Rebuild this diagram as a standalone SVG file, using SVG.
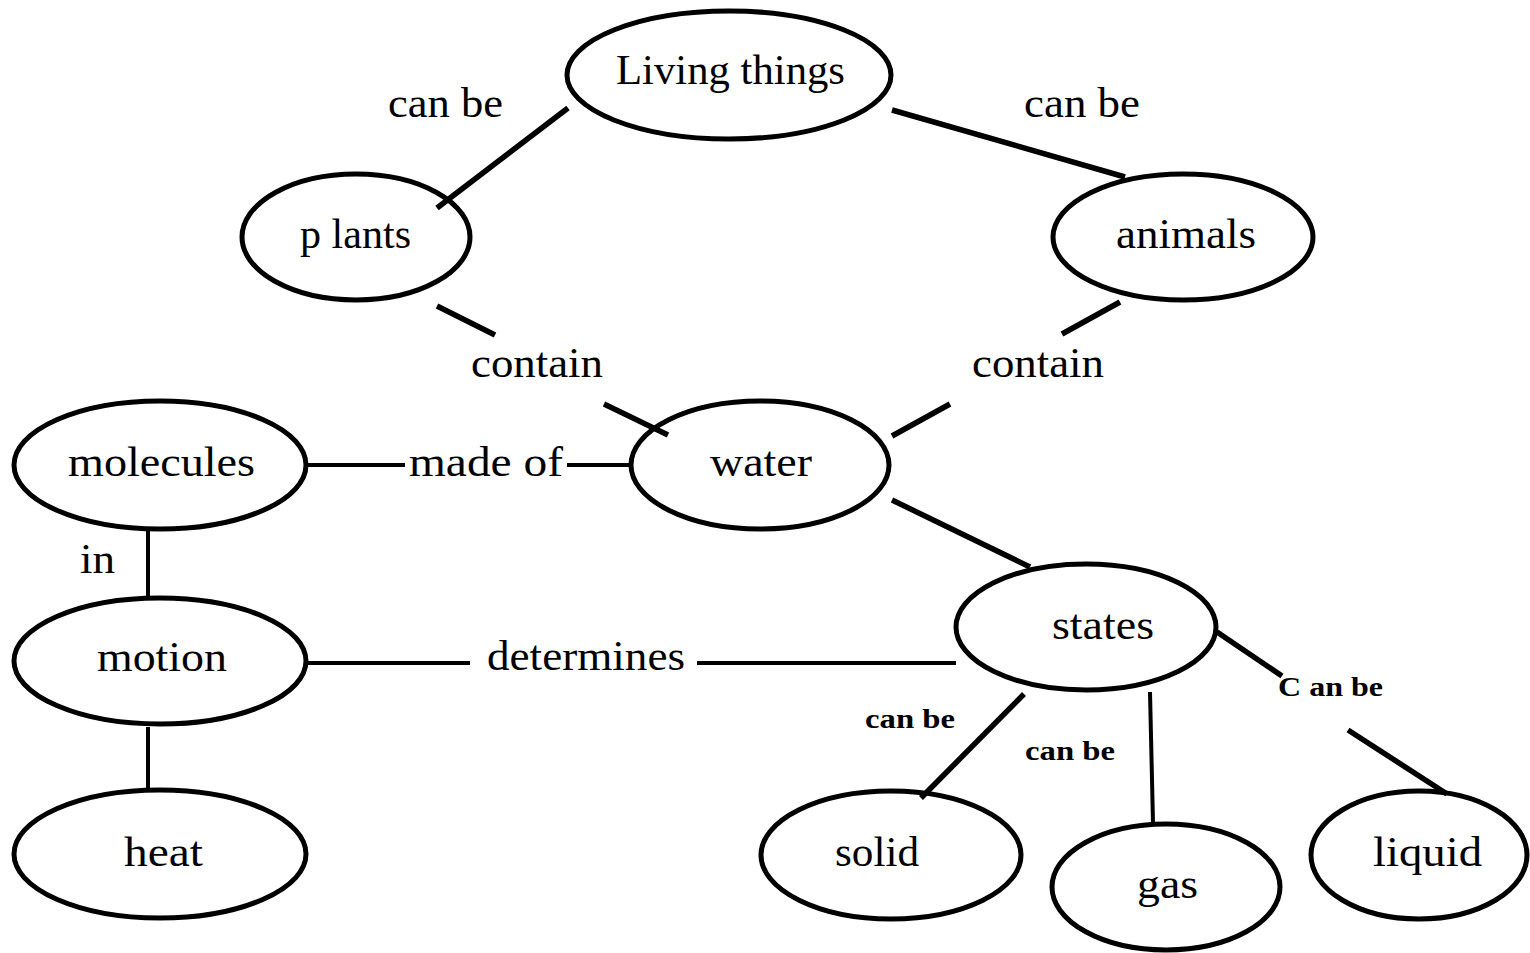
<svg xmlns="http://www.w3.org/2000/svg" width="1530" height="953" viewBox="0 0 1530 953">
<style>
.n{fill:#fff;stroke:#000;stroke-width:5}
.c line{stroke:#000;stroke-width:5.5;stroke-linecap:butt}
text{font-family:"Liberation Serif","Times New Roman",serif;font-size:42px;fill:#000}
.s{font-size:27px;font-weight:bold}
</style>
<rect width="1530" height="953" fill="#fff"/>
<g id="living"><ellipse class="n" cx="729" cy="75" rx="162" ry="64"/><text x="616" y="84" textLength="229" lengthAdjust="spacingAndGlyphs">Living things</text></g>
<g id="plants"><ellipse class="n" cx="356" cy="237" rx="114" ry="63"/><text x="300" y="248" textLength="111" lengthAdjust="spacingAndGlyphs">p lants</text></g>
<g id="animals"><ellipse class="n" cx="1183" cy="237" rx="130" ry="63"/><text x="1116" y="248" textLength="140" lengthAdjust="spacingAndGlyphs">animals</text></g>
<g id="molecules"><ellipse class="n" cx="160" cy="465" rx="146" ry="64"/><text x="68" y="476" textLength="187" lengthAdjust="spacingAndGlyphs">molecules</text></g>
<g id="water"><ellipse class="n" cx="760" cy="465" rx="129" ry="64"/><text x="710" y="476" textLength="102" lengthAdjust="spacingAndGlyphs">water</text></g>
<g id="motion"><ellipse class="n" cx="160" cy="661" rx="146" ry="63"/><text x="97" y="671" textLength="130" lengthAdjust="spacingAndGlyphs">motion</text></g>
<g id="heat"><ellipse class="n" cx="160" cy="854" rx="146" ry="64"/><text x="124" y="866" textLength="79" lengthAdjust="spacingAndGlyphs">heat</text></g>
<g id="states"><ellipse class="n" cx="1086" cy="627" rx="130" ry="63"/><text x="1052" y="639" textLength="102" lengthAdjust="spacingAndGlyphs">states</text></g>
<g id="solid"><ellipse class="n" cx="891" cy="855" rx="130" ry="64"/><text x="835" y="866" textLength="84" lengthAdjust="spacingAndGlyphs">solid</text></g>
<g id="gas"><ellipse class="n" cx="1166" cy="887" rx="114" ry="63"/><text x="1137" y="898" textLength="61" lengthAdjust="spacingAndGlyphs">gas</text></g>
<g id="liquid"><ellipse class="n" cx="1419" cy="855" rx="108" ry="64"/><text x="1373" y="866" textLength="109" lengthAdjust="spacingAndGlyphs">liquid</text></g>
<g class="c" id="connectors">
<line x1="568" y1="108" x2="437" y2="208"/>
<line x1="892" y1="110" x2="1125" y2="177"/>
<line x1="437" y1="306" x2="495" y2="335"/>
<line x1="604" y1="404" x2="668" y2="435"/>
<line x1="1120" y1="302" x2="1062" y2="334"/>
<line x1="950" y1="404" x2="892" y2="436"/>
<line x1="308" y1="465" x2="405" y2="465" style="stroke-width:4"/>
<line x1="567" y1="465" x2="630" y2="465" style="stroke-width:4"/>
<line x1="148" y1="530" x2="148" y2="597" style="stroke-width:4"/>
<line x1="148" y1="727" x2="148" y2="790" style="stroke-width:4"/>
<line x1="308" y1="663" x2="470" y2="663" style="stroke-width:4"/>
<line x1="697" y1="663" x2="956" y2="663" style="stroke-width:4"/>
<line x1="892" y1="500" x2="1030" y2="567"/>
<line x1="1024" y1="694" x2="921" y2="798"/>
<line x1="1150" y1="692" x2="1153" y2="823" style="stroke-width:4"/>
<line x1="1217" y1="632" x2="1282" y2="676"/>
<line x1="1348" y1="730" x2="1447" y2="794"/>
<text x="388" y="117" textLength="115" lengthAdjust="spacingAndGlyphs">can be</text>
<text x="1024" y="117" textLength="116" lengthAdjust="spacingAndGlyphs">can be</text>
<text x="471" y="377" textLength="132" lengthAdjust="spacingAndGlyphs">contain</text>
<text x="972" y="377" textLength="132" lengthAdjust="spacingAndGlyphs">contain</text>
<text x="409" y="476" textLength="154" lengthAdjust="spacingAndGlyphs">made of</text>
<text x="80" y="573" textLength="35" lengthAdjust="spacingAndGlyphs">in</text>
<text x="487" y="670" textLength="198" lengthAdjust="spacingAndGlyphs">determines</text>
<text class="s" x="865" y="728" textLength="90" lengthAdjust="spacingAndGlyphs">can be</text>
<text class="s" x="1025" y="760" textLength="90" lengthAdjust="spacingAndGlyphs">can be</text>
<text class="s" x="1278" y="696" textLength="105" lengthAdjust="spacingAndGlyphs">C an be</text>
</g>
</svg>
